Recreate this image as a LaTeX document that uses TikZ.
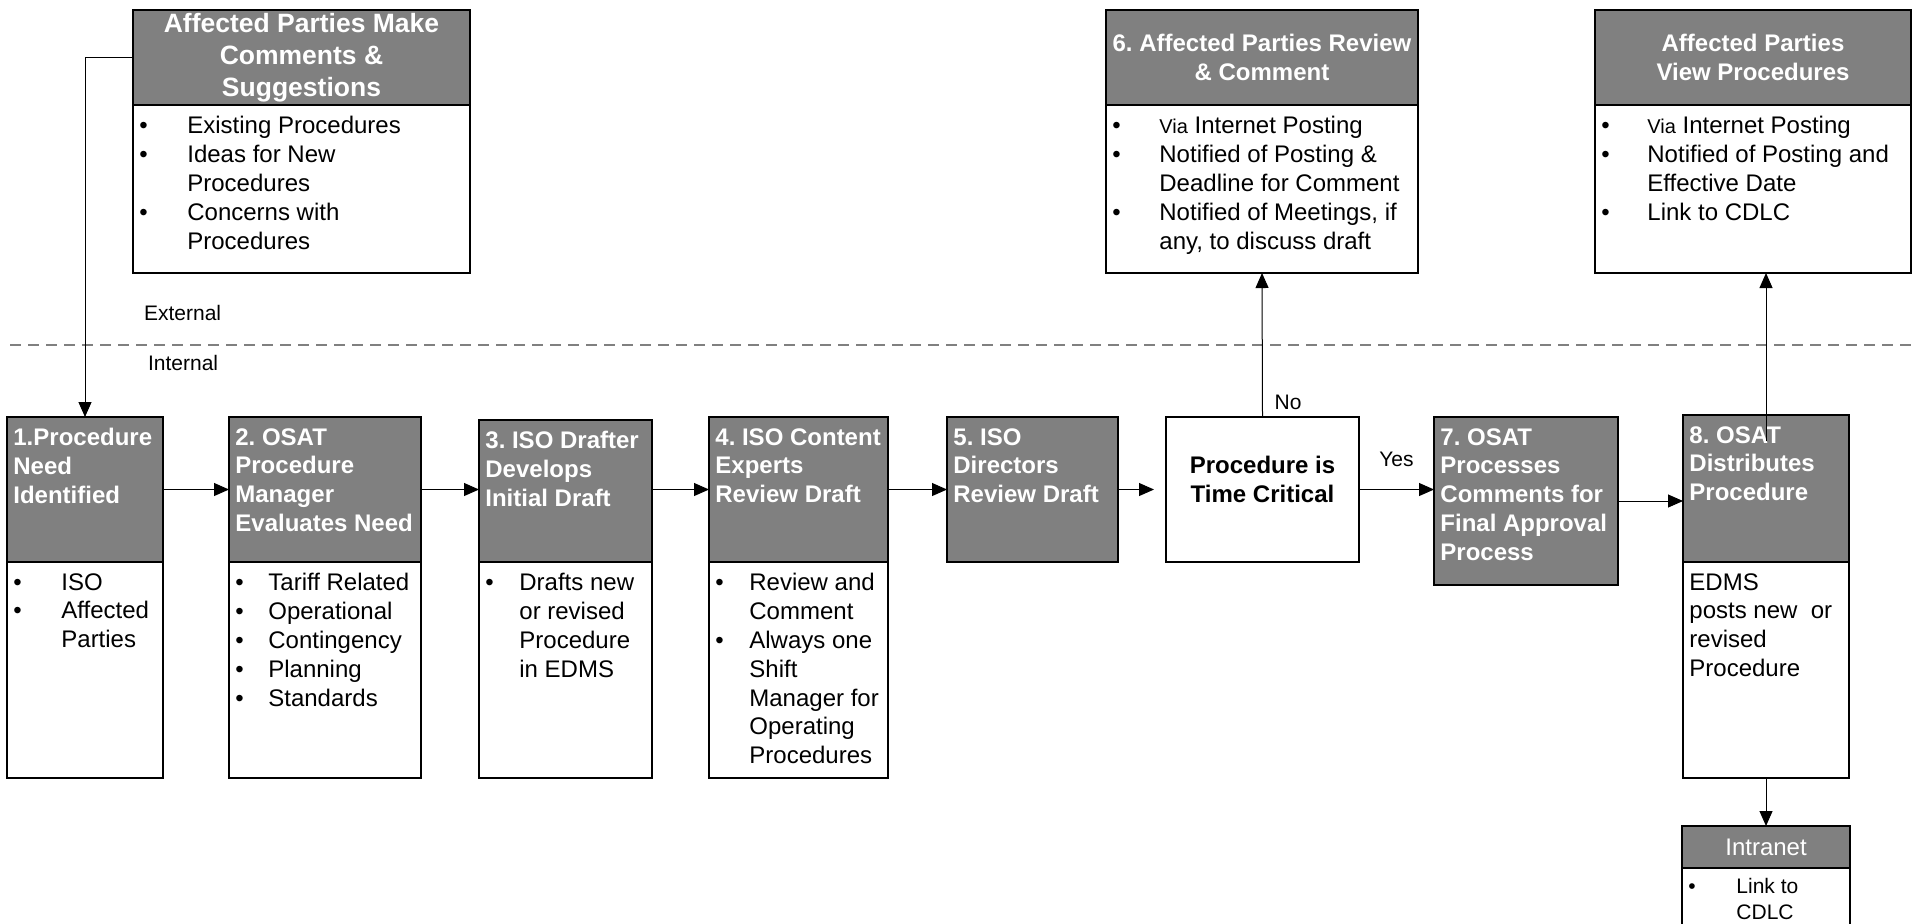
\documentclass[tikz,border=0pt]{standalone}
\usepackage{fontspec}
\setmainfont{Liberation Sans}
\usetikzlibrary{arrows.meta}
\frenchspacing

\definecolor{hdrgray}{RGB}{128,128,128}

% bullet and hanging indent for the lists
\newcommand{\bl}[1][24pt]{\makebox[#1][l]{\textbullet}}
\newcommand{\bi}[1][24pt]{\hspace*{#1}}

\tikzset{
  hdr/.style={draw, line width=0.7pt, fill=hdrgray, anchor=north west, inner sep=0pt, outer sep=0pt},
  bodybox/.style={draw, line width=0.7pt, fill=white, anchor=north west, inner sep=0pt, outer sep=0pt},
  htxt/.style={anchor=north west, align=left, text=white, font=\bfseries\fontsize{12}{14.4}\selectfont, inner xsep=3pt, inner ysep=5.5pt},
  ctxt/.style={align=center, text=white, font=\bfseries\fontsize{12}{14.2}\selectfont},
  btxt/.style={anchor=north west, align=left, font=\fontsize{12}{14.4}\selectfont, inner xsep=3pt, inner ysep=5.5pt},
  lbl/.style={font=\fontsize{10.5}{12}\selectfont},
  conn/.style={line width=0.5pt, ->},
  divider/.style={draw=gray, line width=0.6pt, dash pattern=on 5.5pt off 3.5pt},
  >={Triangle[length=7.5pt,width=6.5pt]}
}

\begin{document}
\begin{tikzpicture}[x=0.5pt, y=-0.5pt]
\path[use as bounding box, fill=white] (0,0) rectangle (1915,923);
\clip (0,0) rectangle (1915,923);

% external side
\node[hdr, minimum width=168.5pt, minimum height=47.5pt] (hA) at (133,10) {};
\node[ctxt, font=\bfseries\fontsize{13.25}{15.9}\selectfont] (hAt) at (hA.center) {Affected Parties Make\\Comments \&\\Suggestions};
\node[bodybox, minimum width=168.5pt, minimum height=84pt] (bA) at (hA.south west) {};
\node[btxt] (bAt) at (bA.north west) {\bl Existing Procedures\\\bl Ideas for New\\\bi Procedures\\\bl Concerns with\\\bi Procedures};

\node[hdr, minimum width=156pt, minimum height=47.5pt] (h6) at (1106,10) {};
\node[ctxt] (h6t) at (h6.center) {6. Affected Parties Review\\\& Comment};
\node[bodybox, minimum width=156pt, minimum height=84pt] (b6) at (h6.south west) {};
\node[btxt] (b6t) at (b6.north west) {\bl[23.5pt]{\fontsize{10}{12}\selectfont Via} Internet Posting\\\bl[23.5pt]Notified of Posting \&\\\bi[23.5pt]Deadline for Comment\\\bl[23.5pt]Notified of Meetings, if\\\bi[23.5pt]any, to discuss draft};

\node[hdr, minimum width=158pt, minimum height=47.5pt] (hV) at (1595,10) {};
\node[ctxt] (hVt) at (hV.center) {Affected Parties\\View Procedures};
\node[bodybox, minimum width=158pt, minimum height=84pt] (bV) at (hV.south west) {};
\node[btxt] (bVt) at (bV.north west) {\bl[23pt]{\fontsize{10}{12}\selectfont Via} Internet Posting\\\bl[23pt]Notified of Posting and\\\bi[23pt]Effective Date\\\bl[23pt]Link to CDLC};

\coordinate (divL) at (10,345);
\coordinate (divR) at (1915,345);
\draw[divider] (divL) -- (divR);
\node[lbl, anchor=west] (ext) at (137,313) {External};
\node[lbl, anchor=west] (int) at (141,363) {Internal};

% internal steps
\node[hdr, minimum width=78pt, minimum height=72.5pt] (h1) at (7,417) {};
\node[htxt] (h1t) at (h1.north west) {1.Procedure\\Need\\Identified};
\node[bodybox, minimum width=78pt, minimum height=108pt] (b1) at (h1.south west) {};
\node[btxt] (b1t) at (b1.north west) {\bl ISO\\\bl Affected\\\bi Parties};

\node[hdr, minimum width=96pt, minimum height=72.5pt] (h2) at (229,417) {};
\node[htxt] (h2t) at (h2.north west) {2. OSAT\\Procedure\\Manager\\Evaluates Need};
\node[bodybox, minimum width=96pt, minimum height=108pt] (b2) at (h2.south west) {};
\node[btxt] (b2t) at (b2.north west) {\bl[16.5pt]Tariff Related\\\bl[16.5pt]Operational\\\bl[16.5pt]Contingency\\\bl[16.5pt]Planning\\\bl[16.5pt]Standards};

\node[hdr, minimum width=86.5pt, minimum height=71pt] (h3) at (479,420) {};
\node[htxt] (h3t) at (h3.north west) {3. ISO Drafter\\Develops\\Initial Draft};
\node[bodybox, minimum width=86.5pt, minimum height=108pt] (b3) at (h3.south west) {};
\node[btxt] (b3t) at (b3.north west) {\bl[17pt]Drafts new\\\bi[17pt]or revised\\\bi[17pt]Procedure\\\bi[17pt]in EDMS};

\node[hdr, minimum width=89.5pt, minimum height=72.5pt] (h4) at (709,417) {};
\node[htxt] (h4t) at (h4.north west) {4. ISO Content\\Experts\\Review Draft};
\node[bodybox, minimum width=89.5pt, minimum height=108pt] (b4) at (h4.south west) {};
\node[btxt] (b4t) at (b4.north west) {\bl[17pt]Review and\\\bi[17pt]Comment\\\bl[17pt]Always one\\\bi[17pt]Shift\\\bi[17pt]Manager for\\\bi[17pt]Operating\\\bi[17pt]Procedures};

\node[hdr, minimum width=85.5pt, minimum height=72.5pt] (h5) at (947,417) {};
\node[htxt] (h5t) at (h5.north west) {5. ISO\\Directors\\Review Draft};

\node[bodybox, minimum width=96.5pt, minimum height=72.5pt] (dec) at (1166,417) {};
\node[align=center, font=\bfseries\fontsize{12}{14.2}\selectfont, yshift=5pt] (dect) at (dec.center) {Procedure is\\Time Critical};

\node[hdr, minimum width=92pt, minimum height=84pt] (h7) at (1434,417) {};
\node[htxt] (h7t) at (h7.north west) {7. OSAT\\Processes\\Comments for\\Final Approval\\Process};

\node[hdr, minimum width=83pt, minimum height=73.5pt] (h8) at (1683,415) {};
\node[htxt] (h8t) at (h8.north west) {8. OSAT\\Distributes\\Procedure};
\node[bodybox, minimum width=83pt, minimum height=108pt] (b8) at (h8.south west) {};
\node[btxt] (b8t) at (b8.north west) {EDMS\\posts new\ \ or\\revised\\Procedure};

\node[hdr, minimum width=84pt, minimum height=21pt] (hI) at (1682,826) {};
\node[text=white, font=\fontsize{12}{14}\selectfont] (hIt) at (hI.center) {Intranet};
\node[bodybox, minimum width=84pt, minimum height=40pt] (bI) at (hI.south west) {};
\node[btxt, font=\fontsize{10.5}{13}\selectfont, inner ysep=5pt] (bIt) at (bI.north west) {\bl Link to\\\bi CDLC};

% connectors
\draw[conn] (hA.west) -| (h1.north);
\draw[conn] (h1.east) -- (h2.west);
\draw[conn] (h2.east) -- (h2.east -| h3.west);
\draw[conn] (h3.east |- h4.west) -- (h4.west);
\draw[conn] (h4.east) -- (h5.west);
\draw[conn, shorten >=6pt] (h5.east) -- (dec.west);
\draw[conn] (dec.east) -- (dec.east -| h7.west) node[lbl, midway, above, yshift=8pt] (yes) {Yes};
\draw[conn] (dec.north) -- (b6.south) node[lbl, pos=0.1, anchor=west, xshift=2.5pt] (no) {No};
\draw[conn] (h7.east) -- (h7.east -| h8.west);
\draw[conn] ([yshift=-13pt]h8.north) -- (h8.north |- bV.south);
\draw[conn] (b8.south) -- (hI.north);
\end{tikzpicture}
\end{document}
